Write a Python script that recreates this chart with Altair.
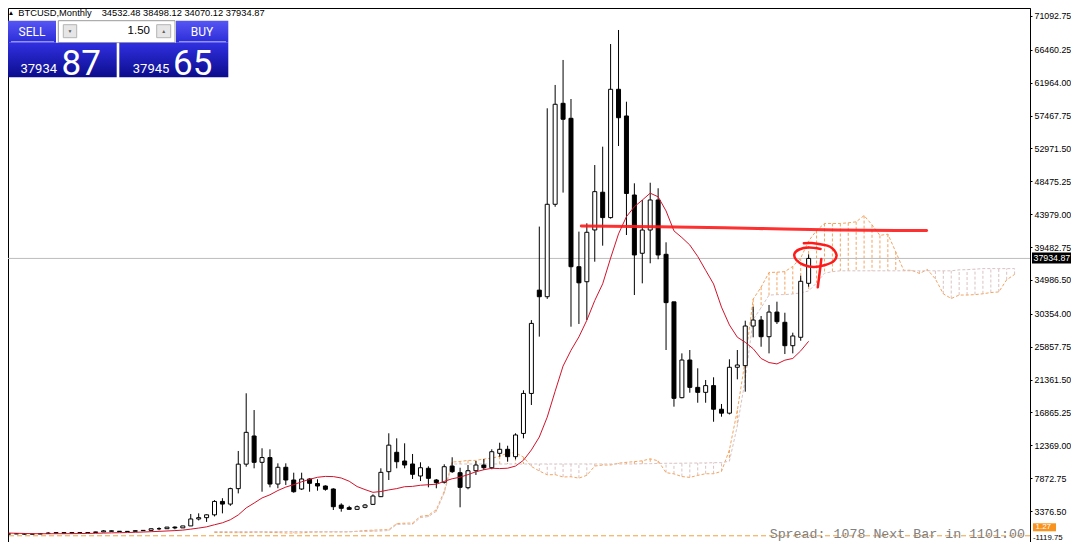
import altair as alt
import numpy as np
import pandas as pd

# ---------------- data (monthly BTCUSD) ----------------
OPEN = [230, 264, 284, 230, 236, 314, 377, 430, 368, 437,
        416, 448, 531, 674, 624, 575, 608, 700, 742, 963,
        970, 1190, 1080, 1350, 2300, 2480, 2870, 4700, 4340, 6450,
        9800, 13650, 10050, 10700, 7080, 9370, 7630, 6400, 7770, 7150,
        6810, 6400, 4200, 3850, 3620, 3900, 4300, 5350, 8770, 11420,
        10230, 9820, 8180, 9230, 7630, 7320, 9540, 8630, 6580, 8900,
        9680, 9310, 11280, 11830, 10820, 14000, 19470, 33600, 32700, 45340,
        59150, 57100, 36800, 34750, 41830, 46990, 43520, 61070, 57420, 46610,
        38640, 41820, 45930, 38500, 32000, 18890, 24040, 20300, 19620, 20540,
        17310, 16770, 23050, 23270, 28690, 29510, 27230, 30600, 29200, 26000,
        27150, 34532.48]
HIGH = [268, 318, 287, 248, 335, 503, 470, 463, 446, 440,
        467, 555, 780, 704, 626, 629, 730, 755, 981, 1160,
        1210, 1290, 1350, 2980, 3070, 2930, 4870, 5140, 6580, 11600,
        19490, 17200, 11970, 11830, 9910, 9910, 8630, 8630, 7860, 7730,
        6900, 6500, 4440, 4100, 4150, 4350, 5670, 9230, 14020, 13330,
        12650, 11190, 10050, 9500, 7770, 9780, 10740, 9310, 9680, 10230,
        10500, 11830, 12730, 12320, 14020, 19900, 29500, 42290, 58470, 61660,
        65080, 59740, 41600, 42740, 50710, 53220, 67260, 69180, 59370, 48210,
        45930, 48290, 47530, 40140, 32000, 24950, 25410, 22910, 21310, 21680,
        18030, 24140, 25410, 29420, 31330, 30060, 31570, 32020, 30510, 27780,
        35570, 38498.12]
LOW = [219, 253, 162, 225, 236, 304, 350, 352, 365, 396,
       414, 436, 508, 605, 520, 569, 606, 684, 741, 755,
       940, 890, 1070, 1350, 2100, 1900, 2650, 3070, 4100, 5800,
       9450, 9230, 6030, 6630, 6500, 6950, 5890, 6260, 6030, 6170,
       6170, 3530, 3300, 3570, 3530, 3760, 4210, 5300, 7630, 9230,
       9230, 7770, 7490, 6630, 6500, 7150, 8600, 3900, 6360, 8320,
       9000, 9100, 10820, 10130, 10460, 13330, 17890, 27240, 32400, 45000,
       46940, 28600, 28970, 29510, 37490, 39680, 43380, 53310, 41140, 32930,
       34530, 37270, 37820, 25410, 17660, 18800, 19570, 18200, 18200, 15600,
       16290, 16600, 21400, 19710, 27150, 25860, 24950, 28970, 24860, 24950,
       26680, 34070.12]
CLOSE = [264, 284, 230, 236, 314, 377, 430, 368, 437, 416,
         448, 531, 674, 624, 575, 608, 700, 742, 963, 970,
         1190, 1080, 1350, 2300, 2480, 2870, 4700, 4340, 6450, 9800,
         14150, 10050, 10700, 7080, 9370, 7630, 6030, 7770, 7180, 6810,
         6360, 3980, 3760, 3620, 3980, 4210, 5440, 8680, 12400, 10130,
         9680, 8410, 9310, 7860, 7270, 9450, 8770, 6630, 8900, 9680,
         9310, 11500, 11830, 10820, 13790, 19470, 29050, 32700, 45340, 59020,
         56970, 36800, 34600, 41510, 47070, 43520, 61070, 57180, 46820, 38410,
         41820, 45930, 38410, 31890, 18800, 24040, 20300, 19620, 20540, 17310,
         16770, 23050, 23360, 28690, 29510, 27230, 30600, 29280, 26000, 27330,
         34810, 37934.87]
# red moving average, read per bar
MA_RED = [372, 347, 318, 293, 281, 280, 287, 286, 294, 309,
          322, 343, 374, 402, 425, 448, 481, 517, 564, 606,
          660, 711, 776, 911, 1056, 1223, 1511, 1776, 2196, 2853,
          3813, 4478, 5174, 5610, 6194, 6662, 6996, 7387, 7723, 8004,
          8123, 8097, 7905, 7464, 6737, 6320, 5944, 6059, 6275, 6454,
          6714, 6760, 6912, 6987, 7052, 7443, 7801, 8016, 8367, 8758,
          9034, 9236, 9195, 9244, 9538, 10328, 11738, 13512, 16231, 19772,
          23215, 25370, 27206, 29479, 32176, 34464, 37981, 41292, 43651, 45004,
          45916, 46861, 46366, 44429, 41702, 40791, 39769, 38206, 36311, 34439,
          31274, 28836, 27161, 26466, 25587, 24251, 23694, 23507, 24021, 24256,
          25293, 26601]
# Ichimoku cloud edges, bars 26 .. 127 (the cloud runs 26 bars past the last candle)
CLOUD_START = 26
SPAN_A = [448, 459, 439, 431, 440, 482, 494, 454, 441, 381,
          381, 403, 487, 504, 515, 516, 519, 527, 632, 727,
          770, 815, 846, 1673, 1727, 1747, 2661, 2800, 3569, 6082,
          10089, 10170, 10308, 10312, 10507, 10616, 10879, 11322, 11348, 10775,
          9480, 8864, 8346, 8361, 8044, 8078, 7885, 8273, 9540, 9678,
          9678, 9933, 10050, 10143, 10255, 10528, 10255, 8638, 8468, 8103,
          7990, 8263, 8488, 8488, 8810, 11750, 17165, 24050, 32378, 34010,
          36013, 36048, 36130, 36848, 37988, 40325, 41755, 42715, 42715, 42715,
          42808, 42943, 43798, 42533, 41085, 41255, 38828, 36315, 36315, 35883,
          36410, 35130, 33095, 32450, 32928, 32928, 32988, 33100, 33273, 33350,
          35015, 35747]
SPAN_B = [580, 580, 580, 580, 580, 580, 580, 580, 582, 582,
          582, 582, 582, 582, 582, 584, 584, 584, 584, 585,
          610, 651, 725, 1540, 1585, 1585, 2490, 2625, 3345, 5855,
          9820, 9820, 9820, 9820, 9820, 9820, 9820, 9820, 9820, 9820,
          9820, 9820, 9820, 9820, 9820, 9820, 9820, 9826, 9826, 9826,
          9826, 9826, 9826, 9826, 9858, 9863, 9897, 9920, 9921, 9928,
          9943, 9952, 9963, 9999, 10005, 10210, 15035, 21448, 29577, 31200,
          32918, 32985, 32985, 33075, 33215, 33490, 34580, 35915, 36125, 36240,
          36240, 36240, 36240, 36240, 36240, 36240, 36240, 36240, 36240, 36240,
          36240, 36240, 36240, 36240, 36375, 36400, 36470, 36540, 36540, 36540,
          36540, 36540]
AXIS_TICKS = [71092.75, 66460.25, 61964.00, 57467.75, 52971.50, 48475.25,
              43979.00, 39482.75, 34986.50, 30354.00, 25857.75, 21361.50,
              16865.25, 12369.00, 7872.75, 3376.50, -1119.75]
BID = 37934.87
LEVEL = 1.27
# hand-drawn annotations (bar index, price)
HAND_LINE_T = [72.3, 82.1, 94.6, 104.6, 115.9]
HAND_LINE_P = [42371, 42275, 42029, 41824, 41755]
LOOP_T = [100.4, 101.4, 102.5, 103.7, 104.5, 104.2, 103.1, 101.65, 100.4, 99.45, 99.2, 99.8, 101.0, 102.5]
LOOP_P = [40005, 40046, 39868, 39540, 38500, 37600, 37037, 36764, 37037, 37721, 38542, 39157, 39431, 39226]
TICK_T = [102.6, 102.4, 102.15]
TICK_P = [37858, 36080, 33987]

SYMBOL = "BTCUSD,Monthly"
OHLC_TEXT = "34532.48 38498.12 34070.12 37934.87"
LOT = "1.50"
SELL_MAIN, SELL_PIPS = "37934", "87"
BUY_MAIN, BUY_PIPS = "37945", "65"
SPREAD_TEXT = "Spread: 1078 Next Bar in 1101:00"

# ---------------- frames ----------------
candles = pd.DataFrame({"t": np.arange(len(OPEN)), "open": OPEN, "high": HIGH,
                        "low": LOW, "close": CLOSE, "ma": MA_RED})
candles["dir"] = np.where(candles["close"] >= candles["open"], "up", "down")
cloud = pd.DataFrame({"t": np.arange(CLOUD_START, CLOUD_START + len(SPAN_A)),
                      "a": SPAN_A, "b": SPAN_B})
cloud["kumo"] = np.where(cloud["a"] >= cloud["b"], "up", "down")
hand = pd.DataFrame({"t": HAND_LINE_T, "p": HAND_LINE_P, "k": np.arange(len(HAND_LINE_T))})
loop = pd.DataFrame({"t": LOOP_T, "p": LOOP_P, "k": np.arange(len(LOOP_T))})
tick = pd.DataFrame({"t": TICK_T, "p": TICK_P, "k": np.arange(len(TICK_T))})
ONE = pd.DataFrame({"k": [0]})

W, H = 1022, 534
RIGHT = 41
XS = alt.Scale(domain=[0.5625, 128.3125], nice=False, zero=False)
YS = alt.Scale(domain=[-848.3, 72186.9], nice=False, zero=False)
AXFONT = "Liberation Sans"
AXSIZE = 8.8
YAX = alt.Axis(orient="right", values=AXIS_TICKS[:-1],
               labelExpr="replace(format(datum.value, '.2f'), '\u2212', '-')",
               labelFont=AXFONT, labelFontSize=AXSIZE, labelColor="#000000",
               tickColor="#000000", tickSize=2, domainColor="#000000", grid=False,
               title=None, labelPadding=2, labelOverlap=False)

SANDY = "#F4A460"
THISTLE = "#D8C2C4"
RED = "#D0142C"
HAND_RED = "#FF1A1A"


def xq(f="t"):
    return alt.X(f + ":Q", scale=XS, axis=None)


def yq(f):
    return alt.Y(f + ":Q", scale=YS, axis=YAX)


def yd(v):
    return alt.Y(datum=v, scale=YS, axis=YAX)


layers = []
# cloud hatch and edges
layers.append(alt.Chart(cloud).mark_rule(strokeDash=[3, 2], strokeWidth=1, clip=True).encode(
    x=xq(), y=yq("a"), y2="b:Q",
    color=alt.Color("kumo:N", scale=alt.Scale(domain=["up", "down"], range=[SANDY, THISTLE]), legend=None)))
layers.append(alt.Chart(cloud).mark_line(color=SANDY, strokeDash=[3, 2], strokeWidth=1, clip=True).encode(
    x=xq(), y=yq("a")))
layers.append(alt.Chart(cloud).mark_line(color=THISTLE, strokeDash=[3, 2], strokeWidth=1, clip=True).encode(
    x=xq(), y=yq("b")))
# horizontal level lines
layers.append(alt.Chart(ONE).mark_rule(color="#EFA03C", strokeDash=[5, 3], strokeWidth=1).encode(y=yd(LEVEL)))
layers.append(alt.Chart(ONE).mark_rule(color="#BDBDBD", strokeWidth=1).encode(y=yd(BID)))
# candles
layers.append(alt.Chart(candles).mark_rule(color="#000000", strokeWidth=1, clip=True).encode(
    x=xq(), y=yq("low"), y2="high:Q"))
layers.append(alt.Chart(candles).mark_bar(size=4, stroke="#000000", strokeWidth=1, clip=True).encode(
    x=xq(), y=yq("open"), y2="close:Q",
    fill=alt.Fill("dir:N", scale=alt.Scale(domain=["up", "down"], range=["#FFFFFF", "#000000"]), legend=None)))
# moving average
layers.append(alt.Chart(candles).mark_line(color=RED, strokeWidth=1, clip=True).encode(x=xq(), y=yq("ma")))
# hand drawings
layers.append(alt.Chart(hand).mark_line(color=HAND_RED, strokeWidth=3, strokeCap="round", opacity=0.9,
                                        interpolate="monotone").encode(x=xq(), y=yq("p"), order="k:Q"))
layers.append(alt.Chart(loop).mark_line(color=HAND_RED, strokeWidth=2.5, strokeCap="round",
                                        interpolate="cardinal").encode(x=xq(), y=yq("p"), order="k:Q"))
layers.append(alt.Chart(tick).mark_line(color=HAND_RED, strokeWidth=2.5, strokeCap="round",
                                        interpolate="cardinal").encode(x=xq(), y=yq("p"), order="k:Q"))

# lowest axis label (drawn by hand so it stays inside the page)
layers.append(alt.Chart(ONE).mark_text(align="left", baseline="alphabetic", color="#000000",
                                       font=AXFONT, fontSize=7.8).encode(
    x=alt.value(W + 3), y=alt.value(531.6), text=alt.value(f"{AXIS_TICKS[-1]:.2f}")))
# right-axis price boxes
layers.append(alt.Chart(ONE).mark_rect(color="#000000", yOffset=-6, y2Offset=5).encode(
    x=alt.value(W + 2), x2=alt.value(W + RIGHT), y=yd(BID), y2=alt.Y2(datum=BID)))
layers.append(alt.Chart(ONE).mark_text(align="left", baseline="middle", color="#FFFFFF",
                                       font=AXFONT, fontSize=AXSIZE).encode(
    x=alt.value(W + 3.5), y=yd(BID), text=alt.value(f"{BID:.2f}")))
layers.append(alt.Chart(ONE).mark_rect(color="#F7931E", yOffset=-12.5, y2Offset=-4.5).encode(
    x=alt.value(W + 3), x2=alt.value(W + 26), y=yd(LEVEL), y2=alt.Y2(datum=LEVEL)))
layers.append(alt.Chart(ONE).mark_text(align="left", baseline="middle", color="#FFFFFF",
                                       font=AXFONT, fontSize=8.0, dy=-8.5).encode(
    x=alt.value(W + 5.5), y=yd(LEVEL), text=alt.value(f"{LEVEL:.2f}")))

# spread text
layers.append(alt.Chart(ONE).mark_text(align="right", baseline="alphabetic", color="#808080",
                                       font="Liberation Mono", fontSize=13.3).encode(
    x=alt.value(1017), y=alt.value(530), text=alt.value(SPREAD_TEXT)))

# ---------------- one-click trading panel ----------------
BTN = alt.LinearGradient(gradient="linear", x1=0, x2=0, y1=0, y2=1,
                         stops=[alt.GradientStop(color="#5656F4", offset=0),
                                alt.GradientStop(color="#2C2CD8", offset=1)])
BOX = alt.LinearGradient(gradient="linear", x1=0, x2=0, y1=0, y2=1,
                         stops=[alt.GradientStop(color="#3030E2", offset=0),
                                alt.GradientStop(color="#0C0C8C", offset=1)])


def rect(x0, y0, x1, y1, fill, stroke=None):
    kw = {"fill": fill}
    if stroke:
        kw["stroke"] = stroke
        kw["strokeWidth"] = 1
    return alt.Chart(ONE).mark_rect(**kw).encode(
        x=alt.value(x0), x2=alt.value(x1), y=alt.value(y0), y2=alt.value(y1))


def label(x, y, s, size, color="#FFFFFF", align="center", baseline="middle", font="Roboto", weight="normal"):
    return alt.Chart(ONE).mark_text(align=align, baseline=baseline, color=color, fontSize=size,
                                    font=font, fontWeight=weight).encode(
        x=alt.value(x), y=alt.value(y), text=alt.value(s))


layers += [
    label(3, 4.8, "\u25B2", 6.5, color="#000000"),
    label(10.3, 4.8, SYMBOL, 9.3, color="#000000", align="left", font=AXFONT),
    label(93.7, 4.8, OHLC_TEXT, 9.3, color="#000000", align="left", font=AXFONT),
    rect(0, 12.7, 48, 34.7, BTN),
    rect(168, 12.7, 220.3, 34.7, BTN),
    rect(50.3, 12.7, 167, 34.7, "#FFFFFF", "#9A9A9A"),
    rect(55.3, 16.7, 68.7, 29.7, "#E6E6E6", "#B4B4B4"),
    rect(148.7, 16.7, 162.7, 29.7, "#E6E6E6", "#B4B4B4"),
    label(62, 23.2, "\u25BC", 5, color="#606060"),
    label(155.7, 23.2, "\u25B2", 5, color="#606060"),
    label(142, 23.3, LOT, 11.5, color="#000000", align="right", font=AXFONT),
    rect(0, 34.7, 108.7, 69.3, BOX),
    rect(111.3, 34.7, 220.3, 69.3, BOX),
    alt.Chart(ONE).mark_rule(color="#A8ACF0", strokeWidth=1).encode(
        x=alt.value(3), x2=alt.value(46), y=alt.value(33.7)),
    alt.Chart(ONE).mark_rule(color="#A8ACF0", strokeWidth=1).encode(
        x=alt.value(171), x2=alt.value(218), y=alt.value(33.7)),
    label(24, 23.7, "SELL", 12),
    label(194, 23.7, "BUY", 12),
    label(49, 64.5, SELL_MAIN, 13, align="right", baseline="alphabetic"),
    label(53.5, 67, SELL_PIPS, 35, align="left", baseline="alphabetic"),
    label(161.3, 64.5, BUY_MAIN, 13, align="right", baseline="alphabetic"),
    label(165, 67, BUY_PIPS, 35, align="left", baseline="alphabetic"),
]

chart = alt.layer(*layers).properties(
    width=W, height=H,
    autosize=alt.AutoSizeParams(type="none"),
    padding={"left": 0, "top": 0, "right": RIGHT, "bottom": 0},
    background="#FFFFFF",
).configure_view(stroke="#000000", strokeWidth=1)

chart.save("out.html", embed_options={"renderer": "svg", "actions": False})
